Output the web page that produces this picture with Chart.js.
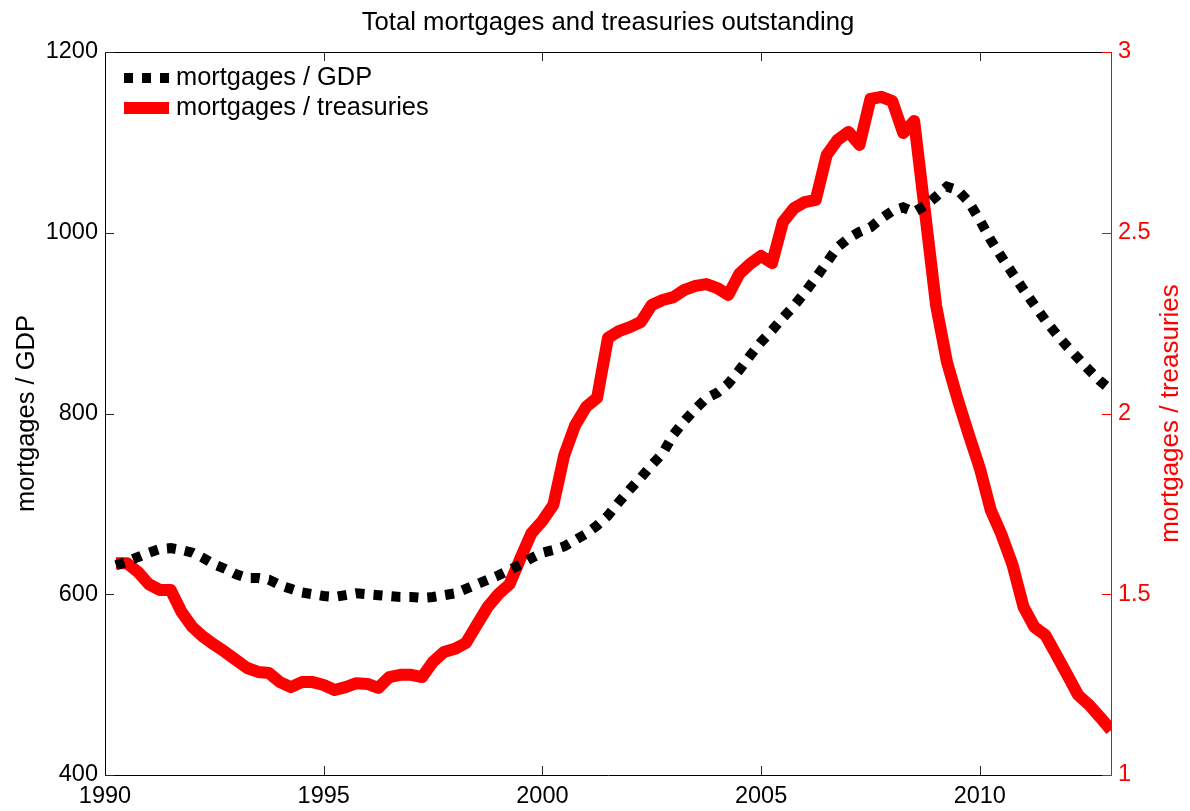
<!DOCTYPE html>
<html>
<head>
<meta charset="utf-8">
<script src="https://cdn.jsdelivr.net/npm/chart.js@4.4.0/dist/chart.umd.min.js"></script>
<style>
html,body{margin:0;padding:0;background:#fff;}
#wrap{width:1190px;height:811px;position:relative;}
</style>
</head>
<body>
<div id="wrap"><canvas id="c" width="1190" height="811"></canvas></div>
<script>
const chartTitle = 'Total mortgages and treasuries outstanding';
const leftLabel = 'mortgages / GDP';
const rightLabel = 'mortgages / treasuries';
const xTicks = [1990, 1995, 2000, 2005, 2010];
const leftTicks = [400, 600, 800, 1000, 1200];
const rightTicks = [1, 1.5, 2, 2.5, 3];
const firstQuarter = 1990.25; // quarterly observations, 1990Q1 .. 2012Q4

const mortgagesGDP = [
  632, 636, 641, 646, 650, 651, 649, 646, 640, 633,
  628, 622, 618, 618, 616, 610, 606, 602, 600, 598,
  597, 599, 601, 600, 599, 598, 597, 597, 596, 597,
  599, 601, 606, 611, 616, 621, 627, 633, 640, 646,
  649, 653, 660, 667, 676, 687, 702, 716, 729, 743,
  756, 777, 792, 805, 817, 823, 833, 848, 864, 879,
  892, 906, 919, 934, 950, 967, 984, 994, 1001, 1006,
  1016, 1024, 1028, 1023, 1030, 1040, 1051, 1047, 1034, 1014,
  992, 973, 955, 937, 920, 903, 888, 874, 861, 848,
  836, 826
];

const mortgagesTreasuries = [
  1.586, 1.586, 1.562, 1.528, 1.512, 1.512, 1.451, 1.409, 1.382, 1.360,
  1.340, 1.318, 1.296, 1.285, 1.282, 1.257, 1.243, 1.257, 1.257, 1.249,
  1.235, 1.243, 1.254, 1.252, 1.241, 1.271, 1.277, 1.277, 1.271, 1.313,
  1.340, 1.349, 1.365, 1.415, 1.465, 1.501, 1.528, 1.600, 1.669, 1.703,
  1.747, 1.885, 1.968, 2.018, 2.043, 2.209, 2.228, 2.239, 2.253, 2.300,
  2.314, 2.322, 2.342, 2.353, 2.358, 2.347, 2.328, 2.386, 2.414, 2.436,
  2.416, 2.530, 2.568, 2.585, 2.591, 2.715, 2.757, 2.779, 2.743, 2.870,
  2.876, 2.864, 2.776, 2.809, 2.555, 2.300, 2.142, 2.037, 1.941, 1.849,
  1.733, 1.664, 1.581, 1.465, 1.409, 1.387, 1.332, 1.277, 1.221, 1.194,
  1.160, 1.124
];

const FONT = 'Liberation Sans, Arial, Helvetica, sans-serif';
const toPoints = arr => arr.map((v, i) => ({ x: firstQuarter + i * 0.25, y: v }));

const decor = {
  id: 'decor',
  afterDraw(chart) {
    const { ctx, chartArea: a, scales } = chart;
    const sx = scales.x, sl = scales.yL, sr = scales.yR;
    ctx.save();
    // top box line
    ctx.strokeStyle = '#000';
    ctx.lineWidth = 1;
    ctx.beginPath();
    ctx.moveTo(a.left, a.top + 0.5);
    ctx.lineTo(a.right, a.top + 0.5);
    ctx.stroke();
    // inward ticks
    const TL = 9;
    ctx.strokeStyle = '#262626';
    xTicks.forEach(v => {
      const px = Math.round(sx.getPixelForValue(v)) + 0.5;
      if (v === xTicks[0]) return;
      ctx.beginPath();
      ctx.moveTo(px, a.bottom); ctx.lineTo(px, a.bottom - TL);
      ctx.moveTo(px, a.top); ctx.lineTo(px, a.top + TL);
      ctx.stroke();
    });
    leftTicks.forEach(v => {
      const py = Math.round(sl.getPixelForValue(v)) + 0.5;
      ctx.beginPath();
      ctx.moveTo(a.left, py); ctx.lineTo(a.left + TL, py);
      ctx.stroke();
    });
    ctx.strokeStyle = '#ff0000';
    rightTicks.forEach(v => {
      const py = Math.round(sr.getPixelForValue(v)) + 0.5;
      ctx.beginPath();
      ctx.moveTo(a.right, py); ctx.lineTo(a.right - TL, py);
      ctx.stroke();
    });
    // title
    ctx.fillStyle = '#000';
    ctx.font = '25.7px ' + FONT;
    ctx.textAlign = 'center';
    ctx.textBaseline = 'middle';
    ctx.fillText(chartTitle, (a.left + a.right) / 2, 23);
    // right axis title (reads bottom to top)
    ctx.save();
    ctx.translate(1171, (a.top + a.bottom) / 2);
    ctx.rotate(-Math.PI / 2);
    ctx.fillStyle = '#ff0000';
    ctx.font = '26px ' + FONT;
    ctx.fillText(rightLabel, 0, 0);
    ctx.restore();
    // legend
    const ds = chart.data.datasets;
    const lx0 = 124, lx1 = 169, tx = 176;
    const rows = [78, 108];
    ds.forEach((d, i) => {
      ctx.save();
      ctx.strokeStyle = d.borderColor;
      ctx.lineWidth = d.borderWidth;
      ctx.lineCap = 'butt';
      ctx.setLineDash(d.borderDash || []);
      ctx.beginPath();
      ctx.moveTo(lx0, rows[i]);
      ctx.lineTo(lx1, rows[i]);
      ctx.stroke();
      ctx.restore();
      ctx.fillStyle = '#000';
      ctx.font = '25.4px ' + FONT;
      ctx.textAlign = 'left';
      ctx.textBaseline = 'middle';
      ctx.fillText(d.label, tx, rows[i]);
    });
    ctx.restore();
  }
};

new Chart(document.getElementById('c'), {
  type: 'line',
  data: {
    datasets: [
      {
        label: leftLabel,
        data: toPoints(mortgagesGDP),
        yAxisID: 'yL',
        borderColor: '#000000',
        borderWidth: 10,
        borderDash: [9, 9],
        borderCapStyle: 'butt',
        borderJoinStyle: 'miter',
        pointRadius: 0,
        tension: 0,
        fill: false
      },
      {
        label: rightLabel,
        data: toPoints(mortgagesTreasuries),
        yAxisID: 'yR',
        borderColor: '#ff0000',
        borderWidth: 12,
        borderCapStyle: 'butt',
        borderJoinStyle: 'round',
        pointRadius: 0,
        tension: 0,
        fill: false
      }
    ]
  },
  options: {
    responsive: false,
    animation: false,
    events: [],
    layout: { padding: { top: 52, left: 0, right: 0, bottom: 0 } },
    plugins: { legend: { display: false }, title: { display: false }, tooltip: { enabled: false } },
    scales: {
      x: {
        type: 'linear', position: 'bottom', min: 1990, max: 2013,
        afterBuildTicks: s => { s.ticks = xTicks.map(v => ({ value: v })); },
        afterFit: s => { s.height = 36; },
        ticks: { color: '#000', font: { family: FONT, size: 23.5 }, padding: 7, maxRotation: 0, autoSkip: false, callback: v => String(v) },
        grid: { drawOnChartArea: false, drawTicks: false },
        border: { display: true, color: '#000', width: 1 }
      },
      yL: {
        type: 'linear', position: 'left', min: 400, max: 1200,
        afterBuildTicks: s => { s.ticks = leftTicks.map(v => ({ value: v })); },
        afterFit: s => { s.width = 105; },
        ticks: { color: '#000', font: { family: FONT, size: 23.5 }, padding: 7, callback: v => String(v) },
        grid: { drawOnChartArea: false, drawTicks: false },
        border: { display: true, color: '#000', width: 1 },
        title: { display: true, text: leftLabel, color: '#000', font: { family: FONT, size: 25.5 }, padding: { top: 12, bottom: 0 } }
      },
      yR: {
        type: 'linear', position: 'right', min: 1, max: 3,
        afterBuildTicks: s => { s.ticks = rightTicks.map(v => ({ value: v })); },
        afterFit: s => { s.width = 79; },
        ticks: { color: '#ff0000', font: { family: FONT, size: 23.5 }, padding: 7, callback: v => String(v) },
        grid: { drawOnChartArea: false, drawTicks: false },
        border: { display: true, color: '#ff0000', width: 1 }
      }
    }
  },
  plugins: [decor]
});
</script>
</body>
</html>
